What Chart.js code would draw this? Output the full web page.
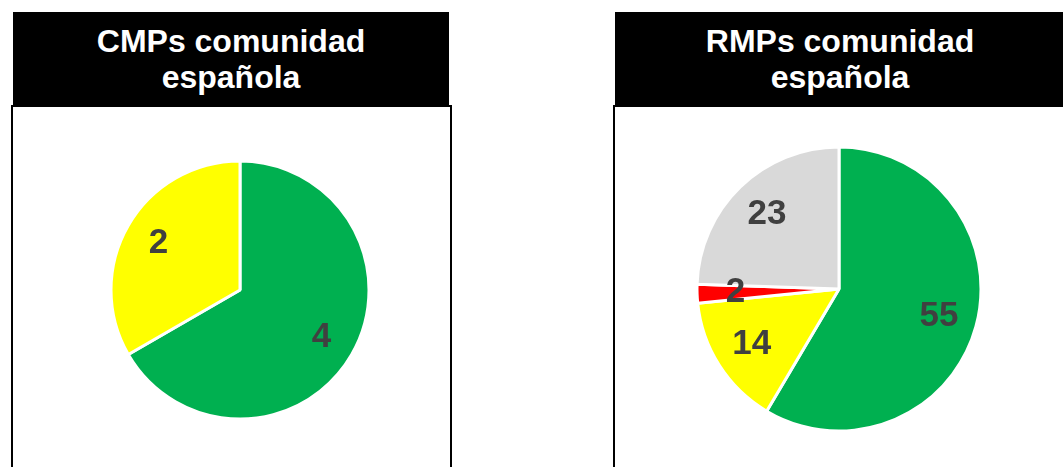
<!DOCTYPE html>
<html>
<head>
<meta charset="utf-8">
<script src="https://cdn.jsdelivr.net/npm/chart.js@4"></script>
<style>
  body { margin: 0; background: #fff; width: 1063px; height: 467px; overflow: hidden; position: relative; font-family: "Liberation Sans", Arial, sans-serif; }
  .head { position: absolute; top: 12px; height: 94px; background: #000; color: #fff; font-weight: bold; font-size: 32px; line-height: 36px; text-align: center; display: flex; align-items: center; justify-content: center; }
  .box { position: absolute; top: 105px; height: 380px; border: 2px solid #000; box-sizing: border-box; }
  .cv { position: absolute; }
</style>
</head>
<body>
<div class="box" style="left:11px;width:441px"></div>
<div class="head" style="left:13px;width:436px"><div>CMPs comunidad<br>española</div></div>
<div class="box" style="left:613px;width:470px"></div>
<div class="head" style="left:615px;width:470px;padding-right:20px;box-sizing:border-box"><div>RMPs comunidad<br>española</div></div>
<div class="cv" style="left:100px;top:150px;width:280px;height:280px"><canvas id="pieCMP"></canvas></div>
<div class="cv" style="left:689px;top:139px;width:300px;height:300px"><canvas id="pieRMP"></canvas></div>
<script>
var cmpLabels = ['Verde', 'Amarillo'];
var cmpValues = [4, 2];
var cmpColors = ['#00b050', '#ffff00'];

var rmpLabels = ['Verde', 'Amarillo', 'Rojo', 'Gris'];
var rmpValues = [55, 14, 2, 23];
var rmpColors = ['#00b050', '#ffff00', '#ff0000', '#d9d9d9'];

// draws the value inside each slice
var sliceLabels = {
    id: 'sliceLabels',
    afterDatasetsDraw: function(chart) {
        var ctx = chart.ctx;
        var meta = chart.getDatasetMeta(0);
        var values = chart.data.datasets[0].data;
        ctx.save();
        ctx.fillStyle = '#404040';
        ctx.font = 'bold 35px "Liberation Sans", Arial, sans-serif';
        ctx.textAlign = 'center';
        ctx.textBaseline = 'middle';
        meta.data.forEach(function(arc, i) {
            var p = arc.getProps(['x', 'y', 'startAngle', 'endAngle', 'outerRadius'], true);
            var mid = (p.startAngle + p.endAngle) / 2;
            var r = p.outerRadius * 0.73;
            ctx.fillText(values[i], p.x + Math.cos(mid) * r, p.y + Math.sin(mid) * r);
        });
        ctx.restore();
    }
};

function makePie(id, labels, values, colors, radius) {
    var canvas = $id(id);
    new Chart(canvas.getContext('2d'), {
        type: 'pie',
        data: {
            labels: labels,
            datasets: [{
                data: values,
                backgroundColor: colors,
                borderColor: '#ffffff',
                borderWidth: 3
            }]
        },
        options: {
            responsive: true,
            maintainAspectRatio: false,
            animation: false,
            events: [],
            radius: radius,
            plugins: {
                legend: { display: false },
                tooltip: { enabled: false }
            }
        },
        plugins: [sliceLabels]
    });
}

function $id(id) { return document.getElementById(id); }

makePie('pieCMP', cmpLabels, cmpValues, cmpColors, 129);
makePie('pieRMP', rmpLabels, rmpValues, rmpColors, 142);
</script>
</body>
</html>
